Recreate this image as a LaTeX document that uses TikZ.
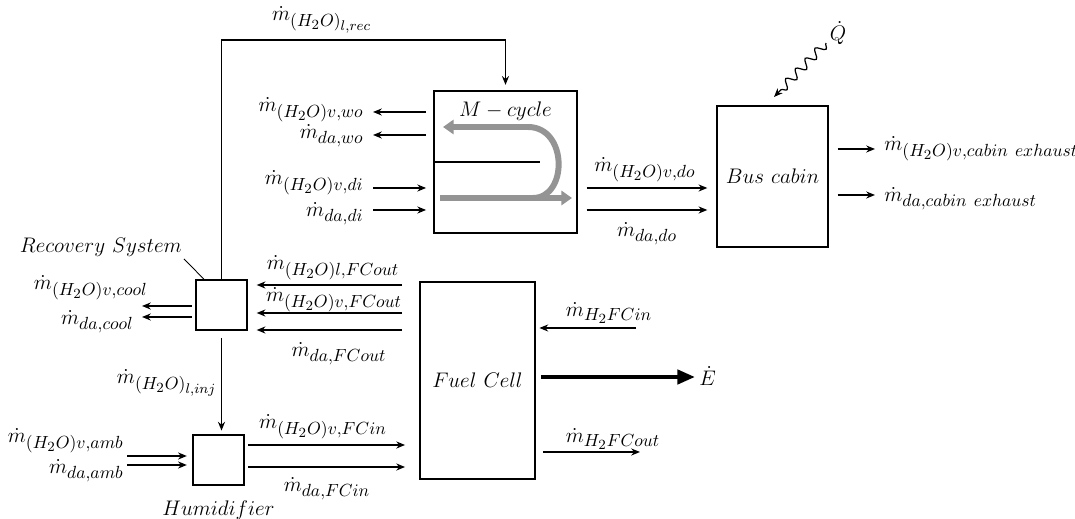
\documentclass[tikz,border=0pt]{standalone}
\usepackage{amsmath}
\usepackage{tikz}
\usetikzlibrary{arrows.meta,decorations.pathmorphing}
\DeclareMathSizes{12.5}{12.5}{10}{8}
\tikzset{
  unitbox/.style={rectangle, draw, line width=1pt, inner sep=0pt},
  flow/.style={-{Stealth[length=5pt,width=4pt]}, line width=0.8pt},
  gapflow/.style={flow, shorten <=5pt, shorten >=5pt},
  powerflow/.style={-{Triangle[length=10pt,width=8pt]}, line width=2.3pt},
  cycleflow/.style={-{Triangle[length=6pt,width=8pt]}, line width=3.4pt, draw=black!42, color=black!42},
  lbl/.style={font=\fontsize{12.5}{15}\selectfont, inner sep=0pt},
  bigtext/.style={font=\fontsize{12.5}{15}\selectfont}
}

\begin{document}
\begin{tikzpicture}[x=0.02cm, y=-0.02cm]
  \useasboundingbox (0,0) rectangle (1075,519);

  % units
  \node[unitbox, minimum width=2.86cm, minimum height=2.84cm] (mc) at (505.5,162) {};
  \node[bigtext, anchor=north] at ([yshift=-3pt]mc.north) {$M-cycle$};
  \node[unitbox, minimum width=2.22cm, minimum height=2.82cm, bigtext] (bus) at (772.5,176.5) {$Bus\ cabin$};
  \node[unitbox, minimum width=1.02cm, minimum height=1.0cm] (rec) at (221.5,305) {};
  \node[unitbox, minimum width=1.02cm, minimum height=1.0cm] (hum) at (218.5,460) {};
  \node[unitbox, minimum width=2.3cm, minimum height=3.94cm, bigtext] (fc) at (477.5,380.5) {$Fuel\ Cell$};
  \node[bigtext, anchor=south east, inner sep=1pt] (recl) at (184,259) {$Recovery\ System$};
  \node[bigtext, anchor=north] (huml) at (hum.south |- 0,495) {$Humidifier$};
  \draw[line width=0.5pt] (recl.south east) -- ([xshift=5pt]rec.north west);

  % inside the M-cycle
  \draw[line width=0.8pt] (mc.west) -- ++(107,0);
  \draw[cycleflow] (533,198) .. controls (568,198) and (568,127) .. (528,127) -- (443,127);
  \draw[cycleflow] (440,198) -- (572,198);

  % water recovery loop
  \coordinate (loop) at (221.5,40);
  \draw[flow, shorten >=3pt] (rec.north) -- (loop) -| (mc.north);
  \node[lbl] at (322,20) {$\dot m_{(H_2O)_{l,rec}}$};

  % M-cycle, left side
  \coordinate (wo1) at (373,112);
  \coordinate (wo2) at (373,135);
  \coordinate (di1) at (373,188);
  \coordinate (di2) at (373,210);
  \draw[flow, shorten <=4pt] (mc.west |- wo1) -- (wo1);
  \draw[flow, shorten <=4pt] (mc.west |- wo2) -- (wo2);
  \draw[flow, shorten >=4pt] (di1) -- (mc.west |- di1);
  \draw[flow, shorten >=4pt] (di2) -- (mc.west |- di2);
  \node[lbl, anchor=east] at (364,110) {$\dot m_{(H_2O)v,wo}$};
  \node[lbl, anchor=east] at (364,136) {$\dot m_{da,wo}$};
  \node[lbl, anchor=east] at (364,183) {$\dot m_{(H_2O)v,di}$};
  \node[lbl, anchor=east] at (364,214) {$\dot m_{da,di}$};

  % M-cycle to bus cabin
  \coordinate (do1) at (650,188);
  \coordinate (do2) at (650,210);
  \draw[gapflow] (mc.east |- do1) -- (bus.west |- do1);
  \draw[gapflow] (mc.east |- do2) -- (bus.west |- do2);
  \node[lbl] at (645,170) {$\dot m_{(H_2O)v,do}$};
  \node[lbl] at (647,234) {$\dot m_{da,do}$};

  % heat load
  \coordinate (qsrc) at (826,43);
  \coordinate (qend) at (774,97);
  \draw[-{Stealth[length=5pt,width=4pt]}, line width=0.7pt, decorate,
    decoration={snake, amplitude=2.5pt, segment length=8pt, post length=5pt}] (qsrc) -- (qend);
  \node[lbl] at (838,33) {$\dot Q$};

  % cabin exhaust
  \coordinate (ex1) at (875,149);
  \coordinate (ex2) at (875,195);
  \draw[flow, shorten <=5pt] (bus.east |- ex1) -- (ex1);
  \draw[flow, shorten <=5pt] (bus.east |- ex2) -- (ex2);
  \node[lbl, anchor=west] at (884,149) {$\dot m_{(H_2O)v,cabin\ exhaust}$};
  \node[lbl, anchor=west] at (884,199) {$\dot m_{da,cabin\ exhaust}$};

  % recovery system outlets
  \coordinate (cool1) at (142,306);
  \coordinate (cool2) at (142,317);
  \draw[flow, shorten <=2pt] (rec.west |- cool1) -- (cool1);
  \draw[flow, shorten <=2pt] (rec.west |- cool2) -- (cool2);
  \node[lbl, anchor=east] at (148,288) {$\dot m_{(H_2O)v,cool}$};
  \node[lbl, anchor=east] at (134,322) {$\dot m_{da,cool}$};

  % fuel cell exhaust to recovery
  \coordinate (fo1) at (402,285);
  \coordinate (fo2) at (402,313);
  \coordinate (fo3) at (402,330);
  \draw[flow, shorten >=5pt] (fo1) -- (rec.east |- fo1);
  \draw[flow, shorten >=5pt] (fo2) -- (rec.east |- fo2);
  \draw[flow, shorten >=5pt] (fo3) -- (rec.east |- fo3);
  \node[lbl] at (333,268) {$\dot m_{(H_2O)l,FCout}$};
  \node[lbl] at (334,300) {$\dot m_{(H_2O)v,FCout}$};
  \node[lbl] at (339,354) {$\dot m_{da,FCout}$};

  % injection water
  \draw[flow, shorten <=4pt, shorten >=2pt] (rec.south) -- (rec.south |- hum.north);
  \node[lbl] at (167,383) {$\dot m_{(H_2O)_{l,inj}}$};

  % ambient air to humidifier
  \coordinate (amb1) at (127,456);
  \coordinate (amb2) at (127,465);
  \draw[flow, shorten >=3pt] (amb1) -- (hum.west |- amb1);
  \draw[flow, shorten >=3pt] (amb2) -- (hum.west |- amb2);
  \node[lbl, anchor=east] at (124,441) {$\dot m_{(H_2O)v,amb}$};
  \node[lbl, anchor=east] at (124,471) {$\dot m_{da,amb}$};

  % humidifier to fuel cell
  \coordinate (fi1) at (330,445);
  \coordinate (fi2) at (330,467);
  \draw[flow, shorten <=2pt, shorten >=8pt] (hum.east |- fi1) -- (fc.west |- fi1);
  \draw[flow, shorten <=2pt, shorten >=8pt] (hum.east |- fi2) -- (fc.west |- fi2);
  \node[lbl] at (323,427) {$\dot m_{(H_2O)v,FCin}$};
  \node[lbl] at (327,489) {$\dot m_{da,FCin}$};

  % hydrogen and power
  \coordinate (h2in) at (636,328);
  \coordinate (h2out) at (640,452);
  \coordinate (pout) at (695,377);
  \draw[flow, shorten >=2pt] (h2in) -- (fc.east |- h2in);
  \draw[flow, shorten <=4pt] (fc.east |- h2out) -- (h2out);
  \draw[powerflow, shorten <=3pt] (fc.east |- pout) -- (pout);
  \node[lbl] at (609,313) {$\dot m_{H_2FCin}$};
  \node[lbl] at (613,439) {$\dot m_{H_2FCout}$};
  \node[lbl, anchor=west] at (699,376) {$\dot E$};
\end{tikzpicture}
\end{document}
